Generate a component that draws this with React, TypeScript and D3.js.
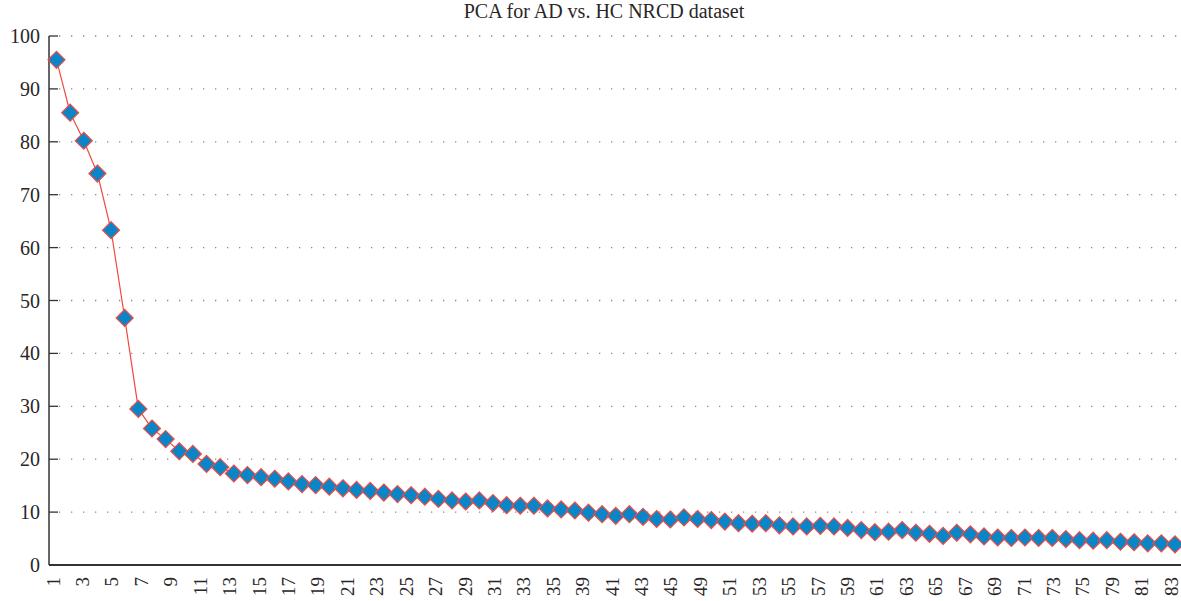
import React from "react";
import * as d3 from "d3";

const values: number[] = [
  95.5, 85.5, 80.2, 74.0, 63.3, 46.7, 29.5, 25.8, 23.8, 21.5,
  21.0, 19.1, 18.5, 17.3, 17.0, 16.6, 16.3, 15.8, 15.3, 15.1,
  14.8, 14.5, 14.2, 14.0, 13.7, 13.4, 13.2, 12.9, 12.5, 12.2,
  12.0, 12.2, 11.7, 11.3, 11.2, 11.2, 10.7, 10.5, 10.3, 9.9,
  9.6, 9.3, 9.6, 9.1, 8.7, 8.6, 9.0, 8.7, 8.5, 8.2,
  7.9, 7.8, 7.9, 7.5, 7.3, 7.3, 7.4, 7.3, 7.0, 6.6,
  6.2, 6.3, 6.6, 6.1, 5.9, 5.5, 6.1, 5.8, 5.4, 5.2,
  5.1, 5.2, 5.1, 5.1, 4.9, 4.7, 4.6, 4.7, 4.4, 4.3,
  4.1, 4.1, 3.9,
];

const xTickLabels: string[] = [
  "1", "3", "5", "7", "9", "11", "13", "15", "17", "19", "21", "23", "25",
  "27", "29", "31", "33", "35", "39", "41", "43", "45", "49", "51", "53",
  "55", "57", "59", "61", "63", "65", "67", "69", "71", "73", "75", "79",
  "81", "83",
];

const yTicks: number[] = [0, 10, 20, 30, 40, 50, 60, 70, 80, 90, 100];

const title = "PCA for AD vs. HC NRCD dataset";

export default function App() {
  const W = 1181;
  const H = 601;
  const axisX = 49;
  const yScale = d3.scaleLinear().domain([0, 100]).range([565, 36]);
  const xScale = d3.scaleLinear().domain([1, values.length]).range([56.5, 1175]);
  const labelScale = d3.scalePoint<string>().domain(xTickLabels).range([53, 1171]);

  const line = d3
    .line<number>()
    .x((_, i) => xScale(i + 1))
    .y((d) => yScale(d));

  const font = "'Liberation Serif', 'DejaVu Serif', serif";
  const textColor = "#2a2627";
  const s = 8.5;

  return (
    <svg
      width={W}
      height={H}
      style={{ position: "absolute", left: 0, top: 0, background: "#fff" }}
      fontFamily={font}
    >
      <rect x={0} y={0} width={W} height={H} fill="#fff" />
      <text x={604} y={18} textAnchor="middle" fontSize={20} fill={textColor}>
        {title}
      </text>
      {/* grid */}
      {yTicks
        .filter((t) => t > 0)
        .map((t) => (
          <line
            key={"g" + t}
            x1={axisX + 10}
            x2={W}
            y1={yScale(t)}
            y2={yScale(t)}
            stroke="#8a8a8a"
            strokeWidth={1.3}
            strokeDasharray="1.3,10.7"
          />
        ))}
      {/* y axis */}
      <line x1={axisX} x2={axisX} y1={yScale(100)} y2={yScale(0)} stroke="#333" strokeWidth={1.5} />
      {yTicks.map((t) => (
        <g key={"t" + t}>
          <line x1={axisX} x2={axisX + 9} y1={yScale(t)} y2={yScale(t)} stroke="#333" strokeWidth={1.3} />
          <text
            x={axisX - 9}
            y={yScale(t)}
            dy="0.35em"
            textAnchor="end"
            fontSize={20}
            fill={textColor}
          >
            {t}
          </text>
        </g>
      ))}
      {/* x axis */}
      <line x1={axisX} x2={W} y1={yScale(0)} y2={yScale(0)} stroke="#333" strokeWidth={2} />
      {xTickLabels.map((l) => (
        <text
          key={"x" + l}
          transform={`translate(${labelScale(l)},${577}) rotate(-90)`}
          dy="0.35em"
          textAnchor="end"
          fontSize={19}
          fill={textColor}
        >
          {l}
        </text>
      ))}
      {/* series */}
      <path d={line(values) || ""} fill="none" stroke="#ee4b43" strokeWidth={1.2} />
      {values.map((v, i) => {
        const cx = xScale(i + 1);
        const cy = yScale(v);
        return (
          <path
            key={"m" + i}
            d={`M${cx},${cy - s}L${cx + s},${cy}L${cx},${cy + s}L${cx - s},${cy}Z`}
            fill="#0a86c8"
            stroke="#ee4b43"
            strokeWidth={1.2}
          />
        );
      })}
    </svg>
  );
}
